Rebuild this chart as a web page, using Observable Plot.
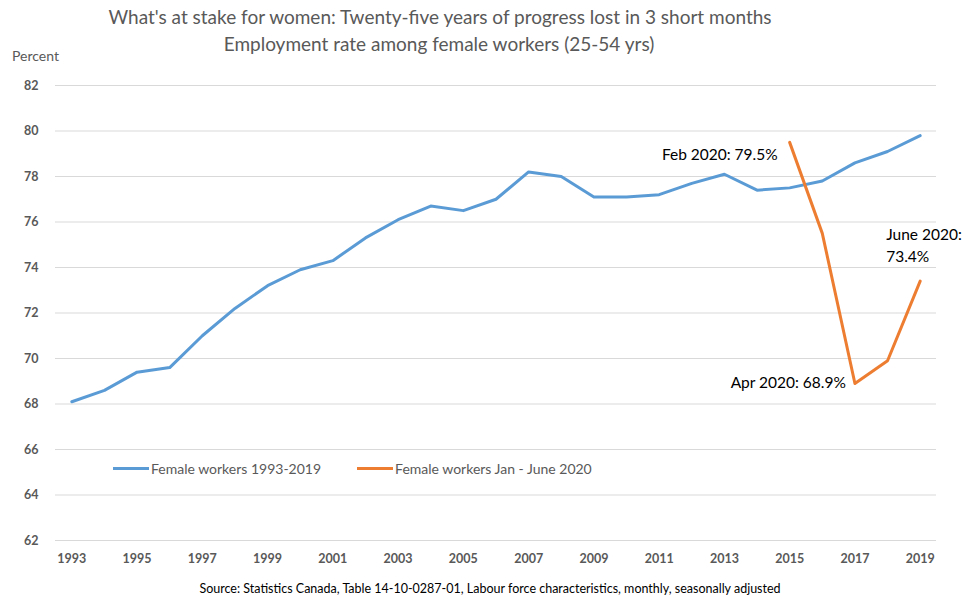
<!DOCTYPE html>
<html><head><meta charset="utf-8">
<script src="https://cdn.jsdelivr.net/npm/d3@7"></script>
<script src="https://cdn.jsdelivr.net/npm/@observablehq/plot@0.6"></script>
<style>
body{margin:0;background:#fff;font-family:Lato,"Open Sans",sans-serif;}
#wrap{position:relative;width:963px;height:610px;overflow:hidden;background:#fff}
#title{position:relative;height:62px;color:#595959;}
#t1{position:absolute;left:0;width:880px;text-align:center;top:5px;font-size:19px;line-height:24px;}
#t2{position:absolute;left:0;width:878px;text-align:center;top:32px;font-size:19px;line-height:24px;}
#percent{position:absolute;left:12px;top:47px;font-size:14px;line-height:18px;color:#595959;}
#chart{height:508px}
#legend{position:absolute;top:460px;left:113px;font-size:14px;color:#595959;display:flex;align-items:center;}
.sw{display:inline-block;width:36px;height:3px;margin-right:2px;}
.item{display:flex;align-items:center;margin-right:36px;}
#source{position:absolute;top:581px;left:0;width:980px;text-align:center;font-size:12.5px;color:#000;}
</style></head><body>
<div id="wrap">
 <div id="title">
  <div id="t1">What's at stake for women: Twenty-five years of progress lost in 3 short months</div>
  <div id="t2">Employment rate among female workers (25-54 yrs)</div>
  <div id="percent">Percent</div>
 </div>
 <div id="chart"></div>
 <div id="legend">
  <div class="item"><span class="sw" style="background:#5B9BD5"></span><span>Female workers 1993-2019</span></div>
  <div class="item"><span class="sw" style="background:#ED7D31"></span><span>Female workers Jan - June 2020</span></div>
 </div>
 <div id="source">Source: Statistics Canada, Table 14-10-0287-01, Labour force characteristics, monthly, seasonally adjusted</div>
</div>
<script>
const years = [1993,1994,1995,1996,1997,1998,1999,2000,2001,2002,2003,2004,2005,2006,2007,2008,2009,2010,2011,2012,2013,2014,2015,2016,2017,2018,2019];
const femaleRate = [68.1,68.6,69.4,69.6,71.0,72.2,73.2,73.9,74.3,75.3,76.1,76.7,76.5,77.0,78.2,78.0,77.1,77.1,77.2,77.7,78.1,77.4,77.5,77.8,78.6,79.1,79.8];
const months2020 = ["Feb 2020","Mar 2020","Apr 2020","May 2020","June 2020"];
const monthPos = [2015,2016,2017,2018,2019];
const rate2020 = [79.5,75.5,68.9,69.9,73.4];
const xTicks = [1993,1995,1997,1999,2001,2003,2005,2007,2009,2011,2013,2015,2017,2019];
const yTicks = [62,64,66,68,70,72,74,76,78,80,82];

const blue = years.map((y,i)=>({x:y, v:femaleRate[i]}));
const orange = monthPos.map((p,i)=>({x:p, v:rate2020[i], m:months2020[i]}));
const noteFeb = [orange[0]];
const noteApr = [orange[2]];
const noteJun = [orange[4]];

const chart = Plot.plot({
  width:963, height:508,
  marginTop:23, marginBottom:30, marginLeft:55, marginRight:27,
  style:{fontFamily:"Lato, 'Open Sans', sans-serif", color:"#595959", background:"#fff"},
  x:{domain:[1992.5,2019.5], label:null},
  y:{domain:[62,82], label:null},
  marks:[
    Plot.gridY(yTicks,{stroke:"#d9d9d9", strokeOpacity:1, strokeWidth:1}),
    Plot.axisY(yTicks,{tickSize:0, tickPadding:17, fontWeight:"bold", fontSize:12.5, label:null}),
    Plot.axisX(xTicks,{tickSize:0, tickPadding:14, fontWeight:"bold", fontSize:12.5, tickFormat:d=>String(d), label:null}),
    Plot.line(blue,{x:"x", y:"v", stroke:"#5B9BD5", strokeWidth:3}),
    Plot.line(orange,{x:"x", y:"v", stroke:"#ED7D31", strokeWidth:3}),
    Plot.text(noteFeb,{x:"x", y:"v", text:d=>`${d.m}: ${d.v}%`, textAnchor:"end", dx:-12, dy:13, fill:"#000", fontSize:15.5}),
    Plot.text(noteApr,{x:"x", y:"v", text:d=>`${d.m}: ${d.v}%`, textAnchor:"end", dx:-9, dy:0, fill:"#000", fontSize:15.5}),
    Plot.text(noteJun,{x:"x", y:"v", text:d=>`${d.m}:\n${d.v}%`, textAnchor:"start", lineAnchor:"bottom", dx:-34, dy:-19, lineHeight:1.4, fill:"#000", fontSize:15.5})
  ]
});
document.getElementById("chart").appendChild(chart);
</script>
</body></html>
